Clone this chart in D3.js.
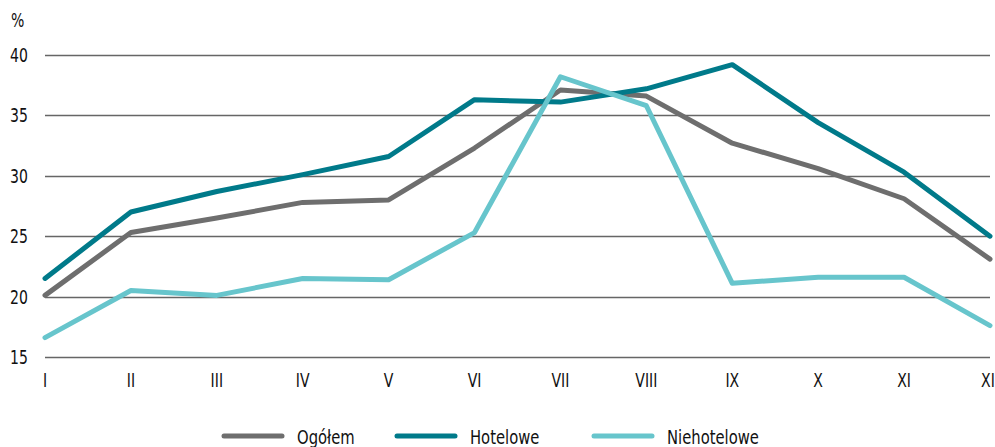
<!DOCTYPE html>
<html>
<head>
<meta charset="utf-8">
<script src="https://cdn.jsdelivr.net/npm/d3@7"></script>
<style>
  body { margin: 0; background: #fff; }
  text { font-family: "DejaVu Sans", sans-serif; fill: #111; }
</style>
</head>
<body>
<div id="chart"></div>
<script>
// months (roman numerals)
var months = ["I","II","III","IV","V","VI","VII","VIII","IX","X","XI","XII"];
var yTicks = [15, 20, 25, 30, 35, 40];
var seriesNames = ["Ogółem", "Hotelowe", "Niehotelowe"];
var seriesColors = ["#6e6e6e", "#007a8a", "#67c5cc"];

var ogolem      = [20.1, 25.3, 26.5, 27.8, 28.0, 32.3, 37.1, 36.6, 32.7, 30.6, 28.1, 23.1];
var hotelowe    = [21.5, 27.0, 28.7, 30.1, 31.6, 36.3, 36.1, 37.2, 39.2, 34.4, 30.3, 25.0];
var niehotelowe = [16.6, 20.5, 20.1, 21.5, 21.4, 25.3, 38.2, 35.8, 21.1, 21.6, 21.6, 17.6];

var seriesValues = [ogolem, hotelowe, niehotelowe];

/* condensed look: squeeze text horizontally */
var squeeze = 0.74;
function condensed(sel, px, py) {
  return sel.attr("transform", function (d, i) {
    return "translate(" + px(d, i) + "," + py(d, i) + ") scale(" + squeeze + ",1)";
  });
}

function draw() {
  "use strict";
  var width = 995, height = 447;
  var svg = d3.select("#chart").append("svg")
      .attr("width", width)
      .attr("height", height);

  var x = d3.scalePoint().domain(months).range([45, 990]);
  var y = d3.scaleLinear().domain([15, 40]).range([357, 55]);

  /* gridlines */
  svg.append("g").selectAll("line")
    .data(yTicks).enter().append("line")
      .attr("x1", 45).attr("x2", 990)
      .attr("y1", function (d) { return Math.round(y(d)) + 0.5; })
      .attr("y2", function (d) { return Math.round(y(d)) + 0.5; })
      .attr("stroke", "#666")
      .attr("stroke-width", 1.3);

  /* y axis labels */
  condensed(svg.append("g").selectAll("text")
    .data(yTicks).enter().append("text")
      .attr("text-anchor", "end")
      .style("font-size", "19px")
      .text(function (d) { return d; }),
    function () { return 28; },
    function (d) { return y(d) + 7; });

  condensed(svg.append("g").selectAll("text")
    .data(["%"]).enter().append("text")
      .style("font-size", "19px")
      .text(function (d) { return d; }),
    function () { return 11; },
    function () { return 27; });

  /* x axis labels */
  condensed(svg.append("g").selectAll("text")
    .data(months).enter().append("text")
      .attr("text-anchor", "middle")
      .style("font-size", "19px")
      .text(function (d) { return d; }),
    function (d) { return x(d); },
    function () { return 387; });

  /* series lines */
  var line = d3.line()
    .x(function (d, i) { return x(months[i]); })
    .y(function (d) { return y(d); });

  svg.append("g").selectAll("path")
    .data(seriesValues).enter().append("path")
      .attr("d", line)
      .attr("fill", "none")
      .attr("stroke", function (d, i) { return seriesColors[i]; })
      .attr("stroke-width", 5)
      .attr("stroke-linejoin", "round")
      .attr("stroke-linecap", "round");

  /* legend */
  var legendX = [224, 397, 594];
  var lg = svg.append("g").selectAll("g")
    .data(seriesNames).enter().append("g")
      .attr("transform", function (d, i) { return "translate(" + legendX[i] + ",436)"; });
  lg.append("line")
    .attr("x1", 0).attr("x2", 58)
    .attr("y1", 0).attr("y2", 0)
    .attr("stroke", function (d, i) { return seriesColors[i]; })
    .attr("stroke-width", 5)
    .attr("stroke-linecap", "round");
  condensed(lg.append("text")
    .style("font-size", "20px")
    .text(function (d) { return d; }),
    function () { return 73; },
    function () { return 8; });
}
draw();
</script>
</body>
</html>
